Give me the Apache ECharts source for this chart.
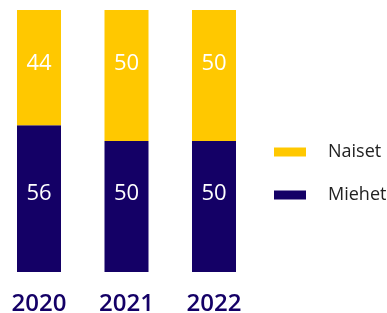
<!DOCTYPE html>
<html>
<head>
<meta charset="utf-8">
<script src="https://cdn.jsdelivr.net/npm/echarts@6/dist/echarts.min.js"></script>
<style>
html, body { margin: 0; padding: 0; background: #fff; }
#chart { width: 387px; height: 313px; }
</style>
</head>
<body>
<div id="chart"></div>
<script>
var years = ["2020", "2021", "2022"];
var naiset = [44, 50, 50];
var miehet = [56, 50, 50];
var seriesNames = ["Naiset", "Miehet"];

var yellow = "#FFC800", navy = "#140066";
var font = "Open Sans";

var chart = echarts.init(document.getElementById("chart"));

chart.setOption({
    animation: false,
    grid: { left: -4.75, top: 10, width: 262.5, height: 262, outerBoundsMode: "none" },
    xAxis: {
        type: "category",
        data: years,
        axisLine: { show: false },
        axisTick: { show: false },
        axisLabel: {
            margin: 20,
            color: navy,
            fontFamily: font,
            fontSize: 24,
            fontWeight: 600,
            lineHeight: 24
        }
    },
    yAxis: { type: "value", min: 0, max: 100, show: false },
    legend: {
        orient: "vertical",
        left: 269,
        top: 137,
        itemWidth: 32,
        itemHeight: 9,
        itemGap: 23,
        icon: "rect",
        data: seriesNames,
        textStyle: {
            color: "#222",
            fontFamily: font,
            fontSize: 18,
            lineHeight: 20,
            padding: [0, 0, 0, 17]
        }
    },
    series: [
        {
            name: "Miehet",
            type: "bar",
            stack: "all",
            barWidth: 44,
            data: miehet,
            itemStyle: { color: navy },
            label: {
                show: true,
                position: ["50%", "100%"],
                offset: [0, -78],
                align: "center",
                verticalAlign: "middle",
                color: "#fff",
                fontFamily: font,
                fontSize: 22,
                fontWeight: 500
            }
        },
        {
            name: "Naiset",
            type: "bar",
            stack: "all",
            barWidth: 44,
            data: naiset,
            itemStyle: { color: yellow },
            label: {
                show: true,
                position: ["50%", 54],
                align: "center",
                verticalAlign: "middle",
                color: "#fff",
                fontFamily: font,
                fontSize: 22,
                fontWeight: 500
            }
        }
    ]
});
</script>
</body>
</html>
